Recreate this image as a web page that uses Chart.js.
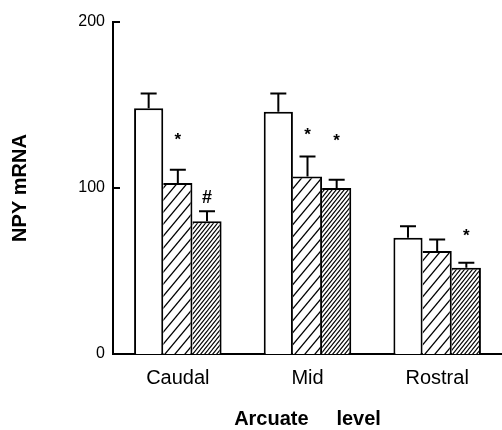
<!DOCTYPE html>
<html><head><meta charset="utf-8">
<script src="https://cdn.jsdelivr.net/npm/chart.js@4.4.0/dist/chart.umd.min.js"></script>
<style>html,body{margin:0;padding:0;background:#fff;overflow:hidden}</style>
</head><body>
<canvas id="c" width="502" height="430"></canvas>
<script>
// ---- data ----
const categories = ['Caudal', 'Mid', 'Rostral'];
const controlValues = [148, 146, 70];
const hatchValues = [103, 107, 62];
const denseValues = [80, 100, 52];
const controlErrors = [9, 11, 7];
const hatchErrors = [8, 12, 7];
const denseErrors = [6, 5, 3];
const controlMarks = ['', '', ''];
const controlMarkLevels = [null, null, null];
const hatchMarks = ['*', '*', ''];
const hatchMarkLevels = [132, 135, null];
const denseMarks = ['#', '*', '*'];
const denseMarkLevels = [95, 131, 74];
const yTicks = [0, 100, 200];

const FONT = "'Liberation Sans', Arial, Helvetica, sans-serif";
Chart.defaults.font.family = FONT;
Chart.defaults.color = '#000';

function hatch(w, h, lw) {
  const c = document.createElement('canvas');
  c.width = w; c.height = h;
  const g = c.getContext('2d');
  g.fillStyle = '#fff'; g.fillRect(0, 0, w, h);
  g.strokeStyle = '#000'; g.lineWidth = lw; g.lineCap = 'square';
  for (const dx of [-w, 0, w]) {
    g.beginPath(); g.moveTo(dx, h); g.lineTo(dx + w, 0); g.stroke();
  }
  return g.createPattern(c, 'repeat');
}
const sparse = hatch(10, 12, 1.3);
const dense = hatch(4, 5, 1.1);

const errorsBy = [controlErrors, hatchErrors, denseErrors];
const marksBy = [controlMarks, hatchMarks, denseMarks];
const markLevelsBy = [controlMarkLevels, hatchMarkLevels, denseMarkLevels];

const extras = {
  id: 'extras',
  afterDatasetsDraw(chart) {
    const ctx = chart.ctx, y = chart.scales.y, area = chart.chartArea;
    ctx.save();
    ctx.strokeStyle = '#000'; ctx.fillStyle = '#000'; ctx.lineWidth = 2;
    // inward ticks on y axis
    yTicks.forEach(v => {
      const py = Math.round(y.getPixelForValue(v)) ;
      ctx.beginPath(); ctx.moveTo(area.left, py); ctx.lineTo(area.left + 7, py); ctx.stroke();
    });
    chart.data.datasets.forEach((ds, di) => {
      const meta = chart.getDatasetMeta(di);
      meta.data.forEach((bar, i) => {
        const top = y.getPixelForValue(ds.data[i] + errorsBy[di][i]);
        ctx.beginPath();
        ctx.moveTo(bar.x, bar.y); ctx.lineTo(bar.x, top);
        ctx.moveTo(bar.x - 8, top); ctx.lineTo(bar.x + 8, top);
        ctx.stroke();
        const m = marksBy[di][i];
        if (m) {
          const size = m === '#' ? 18 : 17;
          ctx.font = 'bold ' + size + 'px ' + FONT;
          ctx.textAlign = 'center'; ctx.textBaseline = 'alphabetic';
          const cy = y.getPixelForValue(markLevelsBy[di][i]);
          const off = m === '*' ? 0.58 : 0.36;
          ctx.fillText(m, bar.x, cy + off * size);
        }
      });
    });
    ctx.restore();
  }
};

new Chart(document.getElementById('c'), {
  type: 'bar',
  data: {
    labels: categories,
    datasets: [
      { data: controlValues, backgroundColor: '#fff', borderColor: '#000',
        borderWidth: {top: 2, left: 2, right: 2, bottom: 0} },
      { data: hatchValues, backgroundColor: sparse, borderColor: '#000',
        borderWidth: {top: 2, left: 0, right: 2, bottom: 0} },
      { data: denseValues, backgroundColor: dense, borderColor: '#000',
        borderWidth: {top: 2, left: 0, right: 2, bottom: 0} }
    ]
  },
  options: {
    responsive: false,
    animation: false,
    events: [],
    categoryPercentage: 0.675,
    barPercentage: 1.0,
    layout: { padding: { top: 22, right: -2, left: 0, bottom: 0 } },
    plugins: { legend: { display: false }, tooltip: { enabled: false } },
    scales: {
      x: {
        grid: { display: false, drawTicks: false },
        border: { display: true, color: '#000', width: 2 },
        ticks: { padding: 14, font: { size: 20, lineHeight: 1 }, color: '#000' },
        title: { display: true, text: 'Arcuate     level', color: '#000',
          font: { size: 20, weight: 'bold', lineHeight: 1 }, padding: { top: 0, bottom: 1 } },
        afterFit: s => { s.height = 76; }
      },
      y: {
        min: 0, max: 200,
        afterBuildTicks: s => { s.ticks = yTicks.map(v => ({ value: v })); },
        grid: { display: false, drawTicks: false },
        border: { display: true, color: '#000', width: 2 },
        ticks: { padding: 8, font: { size: 16 }, color: '#000' },
        title: { display: true, text: 'NPY mRNA', color: '#000',
          font: { size: 20, weight: 'bold', lineHeight: 1 }, padding: { top: 10, bottom: 0 } },
        afterFit: s => { s.width = 113; }
      }
    }
  },
  plugins: [extras]
});
</script>
</body></html>
